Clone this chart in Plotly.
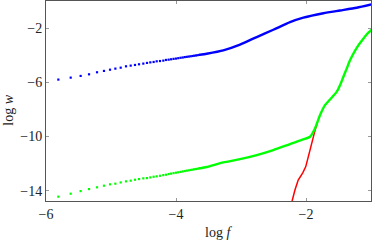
import plotly.graph_objects as go

# shared sparse frequency grid (log f)
x_sparse = [-5.810, -5.620, -5.467, -5.338, -5.215, -5.108, -5.015, -4.933, -4.851,
            -4.769, -4.697, -4.631, -4.569, -4.503, -4.446, -4.395, -4.344, -4.297,
            -4.246, -4.195, -4.154, -4.113, -4.075, -4.037, -4.000, -3.965, -3.930,
            -3.897, -3.865, -3.834, -3.804, -3.775, -3.747, -3.720, -3.694, -3.668, -3.643]
blue_sparse = [-5.80, -5.655, -5.53, -5.41, -5.26, -5.16, -5.07, -4.99, -4.92,
               -4.82, -4.77, -4.72, -4.67, -4.62, -4.57, -4.53, -4.50, -4.45,
               -4.43, -4.40, -4.35, -4.33, -4.30, -4.27, -4.25, -4.22, -4.19,
               -4.17, -4.14, -4.12, -4.10, -4.08, -4.06, -4.04, -4.02, -4.00, -3.98]
green_sparse = [-14.44, -14.22, -14.03, -13.88, -13.75, -13.63, -13.53, -13.48, -13.39,
                -13.31, -13.26, -13.19, -13.14, -13.09, -13.07, -13.02, -12.97, -12.94,
                -12.90, -12.85, -12.82, -12.77, -12.74, -12.70, -12.67, -12.64, -12.61,
                -12.58, -12.55, -12.52, -12.50, -12.47, -12.45, -12.42, -12.40, -12.38, -12.35]

# dense parts (continuous curves)
blue_x = [-3.643, -3.528, -3.272, -3.015, -2.758, -2.503, -2.246, -2.041, -1.733, -1.477, -1.220, -0.99]
blue_y = [-3.98, -3.89, -3.64, -3.22, -2.66, -2.12, -1.56, -1.23, -0.90, -0.70, -0.50, -0.25]

green_x = [-3.643, -3.528, -3.272, -3.015, -2.758, -2.503, -2.246, -2.041, -1.938, -1.862,
           -1.785, -1.708, -1.631, -1.528, -1.477, -1.426, -1.374, -1.323, -1.272, -1.195,
           -1.118, -1.041, -0.97]
green_y = [-12.35, -12.25, -11.91, -11.67, -11.37, -11.00, -10.56, -10.22, -10.02, -9.41,
           -8.43, -7.69, -7.27, -6.71, -6.22, -5.61, -4.99, -4.38, -3.89, -3.27,
           -2.78, -2.34, -2.05]

red_x = [-2.25, -2.211, -2.17, -2.12, -2.05, -2.005, -1.965, -1.93, -1.90, -1.86, -1.83]
red_y = [-15.2, -14.70, -13.95, -13.22, -12.68, -12.24, -11.50, -10.76, -10.15, -9.53, -9.10]

x_ticks = [-6, -4, -2]
y_ticks = [-14, -10, -6, -2]

BLUE, GREEN, RED = "#0000ff", "#00ff00", "#ff0000"

fig = go.Figure()
fig.add_trace(go.Scatter(x=red_x, y=red_y, mode="lines",
                         line=dict(color=RED, width=1.5), hoverinfo="skip"))
fig.add_trace(go.Scatter(x=x_sparse, y=green_sparse, mode="markers",
                         marker=dict(color=GREEN, size=2.2, symbol="square", line=dict(width=0))))
fig.add_trace(go.Scatter(x=green_x, y=green_y, mode="lines",
                         line=dict(color=GREEN, width=2.4, shape="spline", smoothing=0.6)))
fig.add_trace(go.Scatter(x=x_sparse, y=blue_sparse, mode="markers",
                         marker=dict(color=BLUE, size=2.2, symbol="square", line=dict(width=0))))
fig.add_trace(go.Scatter(x=blue_x, y=blue_y, mode="lines",
                         line=dict(color=BLUE, width=2.4, shape="spline", smoothing=0.6)))

font = dict(family="Liberation Serif", size=14, color="#222")
axis_common = dict(showgrid=False, zeroline=False, showline=True, linecolor="#555",
                   linewidth=1, mirror="allticks", ticks="inside", ticklen=3,
                   tickcolor="#999", tickfont=font, automargin=False)
fig.update_xaxes(range=[-6, -1], tickvals=x_ticks,
                 ticktext=["\u2212" + str(abs(v)) for v in x_ticks], **axis_common)
fig.update_yaxes(range=[-14.76, 0.0], tickvals=y_ticks,
                 ticktext=["\u2212" + str(abs(v)) for v in y_ticks], **axis_common)
fig.add_annotation(text="log <i>f</i>", xref="x", yref="paper", x=-3.34, y=0,
                   yshift=-31, yanchor="middle", showarrow=False, font=font)
fig.add_annotation(text="log <i>w</i>", xref="paper", yref="y", x=0, y=-8.1,
                   xshift=-37, xanchor="center", textangle=-90, showarrow=False, font=font)
fig.update_layout(width=374, height=240, margin=dict(l=46, r=3, t=1, b=39),
                  plot_bgcolor="white", paper_bgcolor="white", showlegend=False,
                  hovermode=False)
fig.write_html("out.html", config={"displayModeBar": False, "staticPlot": True})

# remove the browser's default page margin so the figure sits at the top-left corner
with open("out.html", encoding="utf-8") as fh:
    html = fh.read()
html = html.replace("<head>", "<head><style>html,body{margin:0;padding:0;overflow:hidden}</style>", 1)
with open("out.html", "w", encoding="utf-8") as fh:
    fh.write(html)
